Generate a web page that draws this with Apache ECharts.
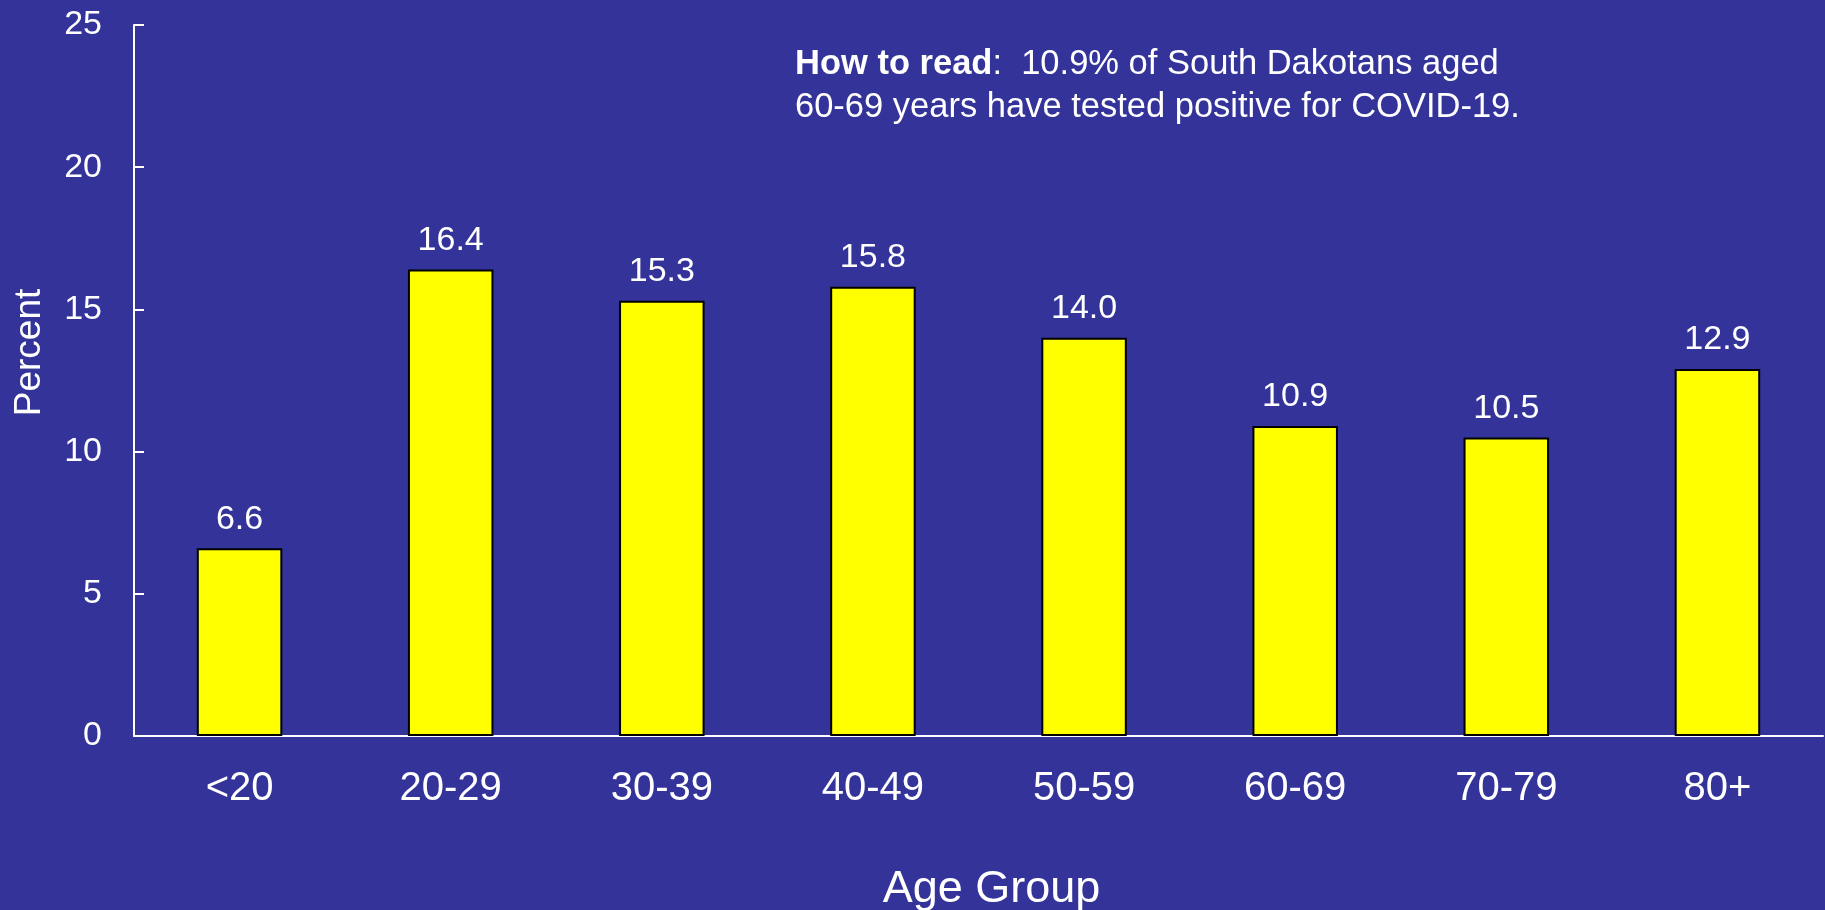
<!DOCTYPE html>
<html>
<head>
<meta charset="utf-8">
<script src="https://cdn.jsdelivr.net/npm/echarts@6/dist/echarts.min.js"></script>
<style>
html,body{margin:0;padding:0;background:#333399;}
#chart{width:1825px;height:910px;}
</style>
</head>
<body>
<div id="chart"></div>
<script>
const categories = ['<20', '20-29', '30-39', '40-49', '50-59', '60-69', '70-79', '80+'];
const percentValues = [6.6, 16.4, 15.3, 15.8, 14.0, 10.9, 10.5, 12.9];
const yTicks = [0, 5, 10, 15, 20, 25];
const xTitle = 'Age Group';
const yTitle = 'Percent';
const noteBold = 'How to read';
const noteRest1 = ':  10.9% of South Dakotans aged';
const noteLine2 = '60-69 years have tested positive for COVID-19.';

const FONT = '"Liberation Sans", Arial, sans-serif';
const chart = echarts.init(document.getElementById('chart'));
chart.setOption({
  backgroundColor: '#333399',
  animation: false,
  grid: { left: 134, right: 2, top: 25, bottom: 174, containLabel: false, outerBoundsMode: 'none' },
  xAxis: {
    type: 'category',
    data: categories,
    axisLine: { show: true, lineStyle: { color: '#ffffff', width: 2 } },
    axisTick: { show: false },
    axisLabel: { color: '#ffffff', fontSize: 40, fontFamily: FONT, margin: 33 },
    name: xTitle,
    nameLocation: 'middle',
    nameGap: 131,
    nameTextStyle: { color: '#ffffff', fontSize: 45, fontFamily: FONT, padding: [0, 0, 0, 26] },
    splitLine: { show: false }
  },
  yAxis: {
    type: 'value',
    min: yTicks[0],
    max: yTicks[yTicks.length - 1],
    interval: yTicks[1] - yTicks[0],
    axisLine: { show: true, lineStyle: { color: '#ffffff', width: 2 } },
    axisTick: { show: true, inside: true, length: 10, lineStyle: { color: '#ffffff', width: 2 } },
    axisLabel: { color: '#ffffff', fontSize: 34, fontFamily: FONT, margin: 32 },
    splitLine: { show: false },
    name: yTitle,
    nameLocation: 'middle',
    nameGap: 86,
    nameRotate: 90,
    nameTextStyle: { color: '#ffffff', fontSize: 37, fontFamily: FONT, padding: [0, 0, 0, 56] }
  },
  series: [{
    type: 'bar',
    data: percentValues,
    barWidth: '40.5%',
    itemStyle: { color: '#ffff00', borderColor: '#000000', borderWidth: 2 },
    label: {
      show: true,
      position: 'top',
      distance: 12,
      color: '#ffffff',
      fontSize: 34,
      fontFamily: FONT,
      formatter: p => Number(p.value).toFixed(1)
    }
  }],
  graphic: [{
    type: 'text',
    left: 795,
    top: 47,
    style: {
      text: '{b|' + noteBold + '}{r|' + noteRest1 + '}\n{r|' + noteLine2 + '}',
      rich: {
        b: { fontSize: 34.5, fontWeight: 'bold', fill: '#ffffff', fontFamily: FONT, lineHeight: 43 },
        r: { fontSize: 34.5, fill: '#ffffff', fontFamily: FONT, lineHeight: 43 }
      }
    }
  }]
});
</script>
</body>
</html>
